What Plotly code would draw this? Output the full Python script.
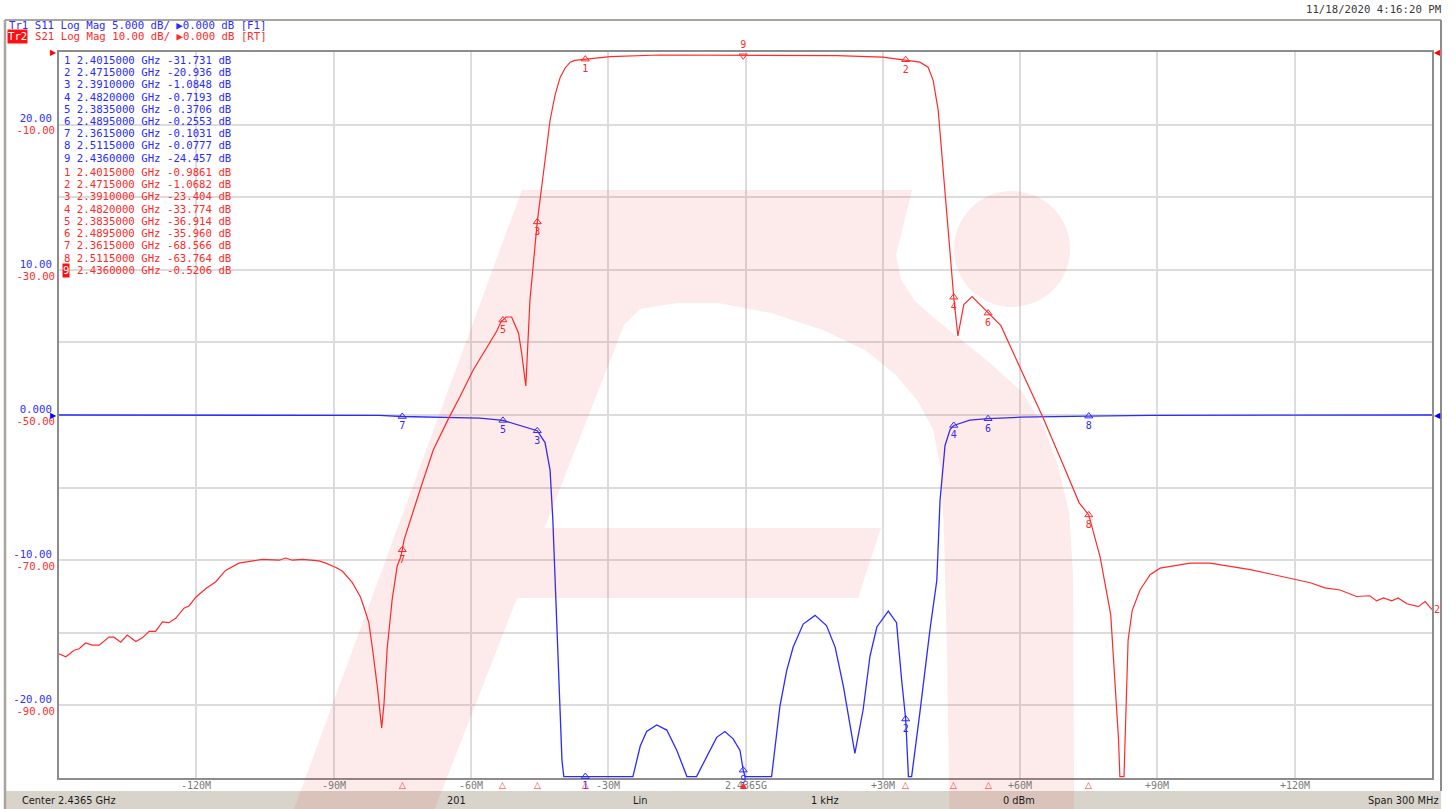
import plotly.graph_objects as go

# ---------------- data ----------------
CENTER_GHZ = 2.4365
SPAN_MHZ = 300

# S21 (Tr2) trace: frequency offset from center (MHz) and magnitude (dB)
S21_OFF_MHZ = [-150, -148.5, -146.7, -145.6, -144.2, -142.7, -141.2, -139.1, -138.0, -136.5,
               -135.1, -133.2, -131.8, -130.3, -128.9, -127.4, -126.0, -124.5, -122.7, -121.6,
               -120.1, -117.9, -115.8, -113.6, -110.7, -107.8, -105.6, -101.9, -100.5, -99.0,
               -96.8, -93.2, -91.7, -89.5, -88.1, -85.9, -84.1, -83.0, -82.3, -81.5,
               -80.4, -79.5, -79.0, -78.3, -77.2, -76.1, -75.3, -75.0, -74.6, -71.1,
               -68.2, -64.9, -62.4, -59.5, -56.5, -54.4, -53.3, -53.0, -52.3, -51.1,
               -49.6, -48.9, -48.0, -47.6, -47.1, -45.5, -43.8, -42.7, -41.6, -40.5,
               -39.4, -38.3, -37.3, -35.0, -29.6, -18.7, -10.0, -0.5, 10.0, 20.0,
               30.0, 35.0, 38.1, 39.9, 41.0, 42.1, 43.2, 44.3, 45.5, 46.4,
               47.7, 49.5, 53.0, 55.8, 60.3, 64.9, 69.5, 72.9, 75.0, 77.5,
               79.8, 81.5, 81.8, 82.7, 83.6, 84.5, 86.2, 88.4, 90.6, 93.9,
               97.2, 101.5, 105.9, 110.3, 114.7, 119.0, 123.4, 126.6, 129.9, 133.5,
               136.4, 137.9, 139.4, 141.2, 142.6, 144.5, 147.0, 148.5, 150.0]
S21_DB = [-82.9, -83.3, -82.4, -82.2, -81.4, -81.7, -81.7, -80.6, -80.6, -81.3,
          -80.3, -81.2, -80.7, -79.8, -79.8, -78.5, -78.6, -78.0, -76.6, -76.3,
          -75.1, -73.9, -73.0, -71.4, -70.4, -70.1, -69.9, -70.0, -69.7, -70.0,
          -69.9, -70.1, -70.4, -71.0, -71.5, -73.1, -75.1, -77.2, -78.6, -82.2,
          -87.7, -93.1, -89.9, -82.2, -75.4, -70.8, -69.5, -68.566, -67.2, -60.3,
          -54.8, -50.5, -47.5, -43.8, -40.6, -38.5, -37.0, -36.914, -36.5, -36.5,
          -38.7, -41.5, -46.0, -41.5, -34.2, -23.404, -14.9, -9.4, -5.9, -3.5,
          -2.2, -1.4, -1.15, -0.9861, -0.64, -0.41, -0.42, -0.5206, -0.45, -0.5,
          -0.7, -1.0682, -1.4, -2.1, -3.9, -8.0, -16.3, -24.5, -33.774, -39.1,
          -34.8, -33.7, -35.960, -37.7, -43.9, -50.2, -57.0, -62.1, -63.764, -69.6,
          -77.5, -94.6, -99.8, -99.8, -81.0, -76.9, -74.1, -72.0, -71.1, -70.7,
          -70.4, -70.4, -70.8, -71.3, -71.9, -72.5, -73.1, -73.8, -74.1, -75.0,
          -74.9, -75.6, -75.2, -75.6, -75.2, -76.0, -76.4, -75.7, -76.8]

# S11 (Tr1) trace
S11_OFF_MHZ = [-150, -100, -80, -75, -68.3, -58, -53, -49.3, -45.5, -43.8,
               -42.7, -42.1, -41.4, -40.7, -40.1, -39.7, -35, -24.6, -23.0, -21.6,
               -19.4, -17.2, -15.0, -12.8, -10.7, -8.5, -6.3, -4.5, -2.7, -1.2,
               -0.5, -0.1, 5.7, 7.5, 9.0, 10.4, 12.6, 15.2, 17.7, 19.6,
               21.4, 23.9, 25.7, 27.2, 28.7, 31.2, 33.0, 34.1, 35.0, 35.6,
               36.3, 38.1, 40.3, 41.8, 42.5, 43.6, 44.7, 45.5, 49.0, 53.0,
               60.0, 75.0, 88.4, 120, 150]
S11_DB = [0.0, -0.01, -0.03, -0.1031, -0.13, -0.22, -0.3706, -0.7, -1.0848, -1.9,
          -3.8, -7.2, -12.7, -18.3, -23.8, -24.9, -24.9, -24.9, -22.8, -21.8,
          -21.35, -21.7, -23.1, -24.9, -24.9, -23.5, -22.2, -21.8, -22.3, -23.1,
          -24.457, -24.9, -24.9, -20.1, -17.6, -16.0, -14.4, -13.8, -14.5, -16.0,
          -18.7, -23.3, -20.3, -16.6, -14.6, -13.5, -14.3, -18.2, -20.936, -24.9,
          -24.9, -20.5, -14.8, -11.4, -5.9, -2.1, -1.0, -0.7193, -0.35, -0.2553,
          -0.15, -0.0777, -0.03, -0.01, 0.0]

# marker table
MARKER_FREQ_GHZ = [2.4015, 2.4715, 2.3910, 2.4820, 2.3835, 2.4895, 2.3615, 2.5115, 2.4360]
S11_MARKER_DB = [-31.731, -20.936, -1.0848, -0.7193, -0.3706, -0.2553, -0.1031, -0.0777, -24.457]
S21_MARKER_DB = [-0.9861, -1.0682, -23.404, -33.774, -36.914, -35.960, -68.566, -63.764, -0.5206]

# axes
X_TICK_OFF_MHZ = [-120, -90, -60, -30, 0, 30, 60, 90, 120]
X_TICK_TEXT = ["-120M", "-90M", "-60M", "-30M", "2.4365G", "+30M", "+60M", "+90M", "+120M"]
S11_RANGE = [-25, 25]
S11_GRID = [25, 20, 15, 10, 5, 0, -5, -10, -15, -20, -25]
S11_GRID_TEXT = ["", "20.00", "", "10.00", "", "0.000", "", "-10.00", "", "-20.00", ""]
S21_RANGE = [-100, 0]
S21_TICKS = [-10, -30, -50, -70, -90]
S21_TICK_TEXT = ["-10.00", "-30.00", "-50.00", "-70.00", "-90.00"]

# texts
HEADER_TR1 = "Tr1 S11 Log Mag 5.000 dB/ \u25b60.000 dB [F1]"
HEADER_TR2_TAG = "Tr2"
HEADER_TR2 = "S21 Log Mag 10.00 dB/ \u25b60.000 dB [RT]"
TIMESTAMP = "11/18/2020 4:16:20 PM"
STATUS_TEXT = ["Center 2.4365 GHz", "201", "Lin", "1 kHz", "0 dBm", "Span 300 MHz"]

# ---------------- style / layout ----------------
W, H = 1456, 809
L, R, T, B = 59, 1432, 52, 778
BLUE = "#2b2bff"
RED = "#ff2a2a"
MONO = "DejaVu Sans Mono"
FS = 10.7


def PX(X):
    return (X - L) / (R - L)


def PY(Y):
    return (B - Y) / (B - T)


def ghz(off_list):
    return [CENTER_GHZ + o / 1000.0 for o in off_list]


fig = go.Figure()

fig.add_trace(go.Scatter(x=ghz(S11_OFF_MHZ), y=S11_DB, mode="lines", yaxis="y",
                         line=dict(color=BLUE, width=1.3), hoverinfo="skip", showlegend=False))
fig.add_trace(go.Scatter(x=ghz(S21_OFF_MHZ), y=S21_DB, mode="lines", yaxis="y2",
                         line=dict(color=RED, width=1.2), hoverinfo="skip", showlegend=False))

nums = [str(i + 1) for i in range(len(MARKER_FREQ_GHZ))]
s11_disp = [max(v, S11_RANGE[0] + 0.1) for v in S11_MARKER_DB]
fig.add_trace(go.Scatter(
    x=MARKER_FREQ_GHZ, y=s11_disp, mode="markers+text", yaxis="y",
    text=nums, textposition="bottom center",
    textfont=dict(family=MONO, size=10, color=BLUE),
    marker=dict(symbol="triangle-up-open", size=7, color=BLUE, line=dict(width=1, color=BLUE)),
    cliponaxis=False, hoverinfo="skip", showlegend=False))
fig.add_trace(go.Scatter(
    x=MARKER_FREQ_GHZ, y=S21_MARKER_DB, mode="markers+text", yaxis="y2",
    text=nums,
    textposition=["bottom center"] * 8 + ["top center"],
    textfont=dict(family=MONO, size=10, color=RED),
    marker=dict(symbol=["triangle-up-open"] * 8 + ["triangle-down-open"], size=7, color=RED,
                line=dict(width=1, color=RED)),
    cliponaxis=False, hoverinfo="skip", showlegend=False))

annotations = []

# header lines
annotations.append(dict(x=PX(7), y=PY(25), xref="paper", yref="paper", xanchor="left", yanchor="middle",
                        text=HEADER_TR1, showarrow=False, font=dict(family=MONO, size=FS, color=BLUE)))
annotations.append(dict(x=PX(7), y=PY(37), xref="paper", yref="paper", xanchor="left", yanchor="middle",
                        text=HEADER_TR2_TAG, showarrow=False, bgcolor="#ff1010", borderpad=0,
                        font=dict(family=MONO, size=FS, color="white")))
annotations.append(dict(x=PX(7 + 4 * 6.45), y=PY(37), xref="paper", yref="paper", xanchor="left",
                        yanchor="middle", text=HEADER_TR2, showarrow=False,
                        font=dict(family=MONO, size=FS, color=RED)))
annotations.append(dict(x=PX(1443), y=PY(10), xref="paper", yref="paper", xanchor="right", yanchor="middle",
                        text=TIMESTAMP, showarrow=False, font=dict(family=MONO, size=FS, color="#3a3a3a")))


def fmt(v):
    return f"{v:.3f}" if abs(v) >= 10 else f"{v:.4f}"


# marker table
for i, (f, v) in enumerate(zip(MARKER_FREQ_GHZ, S11_MARKER_DB)):
    annotations.append(dict(x=PX(62), y=PY(60.5 + 12.2 * i), xref="paper", yref="paper",
                            xanchor="left", yanchor="middle", showarrow=False,
                            text=f"{i + 1} {f:.7f} GHz {fmt(v)} dB",
                            font=dict(family=MONO, size=FS, color=BLUE)))
for i, (f, v) in enumerate(zip(MARKER_FREQ_GHZ, S21_MARKER_DB)):
    yc = PY(172.6 + 12.2 * i)
    if i == len(MARKER_FREQ_GHZ) - 1:
        annotations.append(dict(x=PX(62), y=yc, xref="paper", yref="paper", xanchor="left",
                                yanchor="middle", showarrow=False, text=str(i + 1),
                                bgcolor="#ff1010", borderpad=0,
                                font=dict(family=MONO, size=FS, color="white")))
        annotations.append(dict(x=PX(62 + 2 * 6.45), y=yc, xref="paper", yref="paper", xanchor="left",
                                yanchor="middle", showarrow=False,
                                text=f"{f:.7f} GHz {fmt(v)} dB",
                                font=dict(family=MONO, size=FS, color=RED)))
    else:
        annotations.append(dict(x=PX(62), y=yc, xref="paper", yref="paper", xanchor="left",
                                yanchor="middle", showarrow=False,
                                text=f"{i + 1} {f:.7f} GHz {fmt(v)} dB",
                                font=dict(family=MONO, size=FS, color=RED)))

# x tick labels (just below the bottom border)
for off, txt in zip(X_TICK_OFF_MHZ, X_TICK_TEXT):
    annotations.append(dict(x=CENTER_GHZ + off / 1000.0, y=0, xref="x", yref="paper", xanchor="center",
                            yanchor="top", yshift=0, showarrow=False, text=txt,
                            font=dict(family=MONO, size=10, color="#7a7a7a")))

# marker position indicators along the bottom axis (active trace Tr2)
for i, f in enumerate(MARKER_FREQ_GHZ):
    active = i == len(MARKER_FREQ_GHZ) - 1
    annotations.append(dict(x=f, y=0, xref="x", yref="paper", xanchor="center", yanchor="top",
                            yshift=0, showarrow=False, text="\u25b2" if active else "\u25b3",
                            font=dict(family="DejaVu Sans", size=9, color=RED)))

# reference-level arrows
annotations.append(dict(x=0, y=0, xref="paper", yref="y", xanchor="right", yanchor="middle",
                        showarrow=False, text="\u25b6", font=dict(family="DejaVu Sans", size=8, color="#0000ff")))
annotations.append(dict(x=1, y=0, xref="paper", yref="y", xanchor="left", yanchor="middle",
                        showarrow=False, text="\u25c0", font=dict(family="DejaVu Sans", size=8, color="#0000ff")))
annotations.append(dict(x=0, y=0, xref="paper", yref="y2", xanchor="right", yanchor="middle",
                        showarrow=False, text="\u25b6", font=dict(family="DejaVu Sans", size=8, color="#ff0000")))
annotations.append(dict(x=1, y=0, xref="paper", yref="y2", xanchor="left", yanchor="middle",
                        showarrow=False, text="\u25c0", font=dict(family="DejaVu Sans", size=8, color="#ff0000")))
# trace number at right end of Tr2
annotations.append(dict(x=1, y=S21_DB[-1], xref="paper", yref="y2", xanchor="left", yanchor="middle",
                        showarrow=False, text="2", font=dict(family=MONO, size=10, color=RED)))

# status bar texts
status_pos = [(20, "left"), (457, "center"), (640, "center"), (825, "center"), (1019, "center"), (1441, "right")]
for (xp, anc), txt in zip(status_pos, STATUS_TEXT):
    annotations.append(dict(x=PX(xp), y=PY(800), xref="paper", yref="paper", xanchor=anc, yanchor="middle",
                            showarrow=False, text=txt, font=dict(family="DejaVu Sans", size=9.8, color="#1a1a1a")))

# ---------------- decorative shapes ----------------
shapes = []
# status bar
shapes.append(dict(type="rect", xref="paper", yref="paper", x0=PX(5), x1=PX(1441), y0=PY(809), y1=PY(791),
                   fillcolor="#d8d4cc", line=dict(width=0), layer="below"))
# window frame
frame_col = "#a9a59d"
shapes.append(dict(type="line", xref="paper", yref="paper", x0=PX(5), x1=PX(5), y0=PY(20), y1=PY(809),
                   line=dict(color=frame_col, width=2.5), layer="below"))
shapes.append(dict(type="line", xref="paper", yref="paper", x0=PX(5), x1=PX(1441), y0=PY(20), y1=PY(20),
                   line=dict(color=frame_col, width=2), layer="below"))
shapes.append(dict(type="line", xref="paper", yref="paper", x0=PX(1441), x1=PX(1441), y0=PY(20), y1=PY(791),
                   line=dict(color="#8c8c8c", width=2), layer="below"))

# translucent logo watermark (pixel outline -> paper coords)
logo_px = [(294, 809), (522, 190), (912, 190), (896, 255), (901, 280), (915, 301), (933, 317), (959, 338),
           (990, 363), (1022, 392), (1043, 425), (1058, 466), (1069, 512), (1073, 574), (1074, 780),
           (1074, 809), (949, 809), (949, 780), (947, 656), (944, 532), (941, 470), (933, 429), (917, 400),
           (896, 375), (865, 350), (823, 330), (771, 313), (718, 303), (677, 303), (640, 309), (624, 325),
           (544.5, 528), (881, 528), (858, 598), (517, 598), (434.7, 809)]
path = "M " + " L ".join(f"{PX(a):.5f},{PY(b):.5f}" for a, b in logo_px) + " Z"
shapes.append(dict(type="path", xref="paper", yref="paper", path=path,
                   fillcolor="rgba(232,30,30,0.095)", line=dict(width=0), layer="above"))
shapes.append(dict(type="circle", xref="paper", yref="paper", x0=PX(954), x1=PX(1070), y0=PY(307), y1=PY(191),
                   fillcolor="rgba(232,30,30,0.095)", line=dict(width=0), layer="above"))

fig.update_layout(
    width=W, height=H,
    margin=dict(l=L, r=W - R, t=T, b=H - B, pad=0),
    paper_bgcolor="white",
    plot_bgcolor="rgba(0,0,0,0)",
    showlegend=False,
    hovermode=False,
    annotations=annotations,
    shapes=shapes,
    xaxis=dict(range=[CENTER_GHZ - SPAN_MHZ / 2000.0, CENTER_GHZ + SPAN_MHZ / 2000.0],
               tickmode="array", tickvals=ghz(X_TICK_OFF_MHZ), showticklabels=False,
               showgrid=True, gridcolor="#dcdcdc", gridwidth=1.5, zeroline=False,
               showline=True, mirror=True, linecolor="#8c8c8c", linewidth=2, ticks="",
               layer="below traces", fixedrange=True),
    yaxis=dict(range=S11_RANGE, tickmode="array", tickvals=S11_GRID, ticktext=S11_GRID_TEXT,
               showgrid=True, gridcolor="#dcdcdc", gridwidth=1.5, zeroline=False,
               showline=True, mirror=True, linecolor="#8c8c8c", linewidth=2, ticks="",
               tickfont=dict(family=MONO, size=FS, color="#3030ff"), ticklabelshift=-6,
               ticklabelstandoff=3, layer="below traces", fixedrange=True),
    yaxis2=dict(range=S21_RANGE, overlaying="y", side="left", anchor="x", tickmode="array",
                tickvals=S21_TICKS, ticktext=S21_TICK_TEXT, showgrid=False, zeroline=False,
                showline=False, ticks="", tickfont=dict(family=MONO, size=FS, color="#ff3030"),
                ticklabelshift=6, ticklabelstandoff=3, fixedrange=True),
)

fig.write_html("out.html", config={"displayModeBar": False},
               post_script="document.body.style.margin='0px';document.body.style.overflow='hidden';")
